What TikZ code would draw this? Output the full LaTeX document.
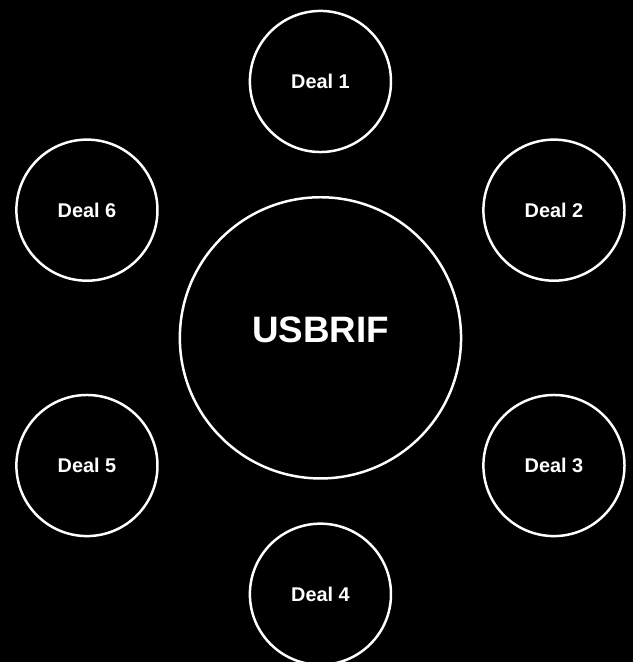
\documentclass[tikz,border=0pt]{standalone}
\usepackage{fontspec}
\setmainfont{Liberation Sans}
\usetikzlibrary{positioning}

\begin{document}
\begin{tikzpicture}[node distance=258pt,on grid,
   deal/.style={circle,draw=white,line width=2.5pt,minimum size=142pt,inner sep=0pt,
      text=white,font=\fontsize{20}{24}\selectfont\bfseries},
   hub/.style={circle,draw=white,line width=2.5pt,minimum size=283pt,inner sep=0pt,
      text=white,font=\fontsize{37}{42}\selectfont\bfseries}]
   \fill[black] (-322.5pt,340pt) rectangle (314.5pt,-326pt);
   \node[hub] (fund) {\raisebox{17pt}{USBRIF}};
   \node[deal] (d1) [above=of fund] {Deal 1};
   \node[deal] (d2) [above right=128.5pt and 235pt of fund] {Deal 2};
   \node[deal] (d3) [below right=128.5pt and 235pt of fund] {Deal 3};
   \node[deal] (d4) [below=of fund] {Deal 4};
   \node[deal] (d5) [below left=128.5pt and 235pt of fund] {Deal 5};
   \node[deal] (d6) [above left=128.5pt and 235pt of fund] {Deal 6};
\end{tikzpicture}
\end{document}
